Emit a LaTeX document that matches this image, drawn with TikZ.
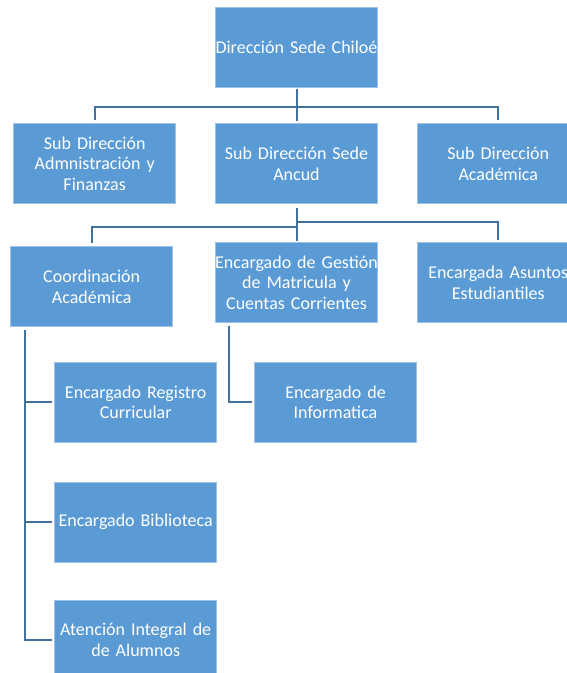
\documentclass[tikz,border=0pt]{standalone}
\usepackage{fontspec}
\setmainfont{Carlito}
\usetikzlibrary{positioning}
\definecolor{CargoBlue}{HTML}{5B9BD5}
\definecolor{CargoEdge}{HTML}{9DC3E6}
\definecolor{LinkBlue}{HTML}{41719C}

\begin{document}
\begin{tikzpicture}[x=1pt,y=1pt,
  cargo/.style={draw=CargoEdge,line width=.8pt,fill=CargoBlue,text=white,align=center,
    text width=168pt,inner xsep=-3pt,inner ysep=0pt,minimum height=80pt,font=\fontsize{18}{20.7}\selectfont},
  link/.style={draw=LinkBlue,line width=2pt}]
  \clip (0,0) rectangle (567,-673);
  \node[cargo] (top) at (296.5,-47) {Dirección Sede Chiloé};
  \node[cargo,below=36pt of top] (sdsede) {Sub Dirección Sede\\Ancud};
  \node[cargo,left=39pt of sdsede] (sdadmin) {Sub Dirección\\Admnistración y\\Finanzas};
  \node[cargo,right=39pt of sdsede] (sdacad) {Sub Dirección\\Académica};
  \node[cargo,below=38pt of sdsede] (gestion) {Encargado de Gestión\\de Matricula y\\Cuentas Corrientes};
  \node[cargo,below=42pt of sdadmin,xshift=-3pt] (coord) {Coordinación\\Académica};
  \node[cargo,below=38pt of sdacad] (asuntos) {Encargada Asuntos\\Estudiantiles};
  \node[cargo,below=35pt of coord,xshift=44pt] (registro) {Encargado Registro\\Curricular};
  \node[cargo,right=37pt of registro] (informatica) {Encargado de\\Informatica};
  \node[cargo,below=39pt of registro] (biblioteca) {Encargado Biblioteca};
  \node[cargo,below=37pt of biblioteca] (atencion) {Atención Integral de\\de Alumnos};
  % first level
  \draw[link] ([yshift=-2pt]top.south) -- ([yshift=2pt]sdsede.north);
  \draw[link] ([yshift=3pt]sdadmin.north) |- ++(0,13pt) -| ([yshift=3pt]sdacad.north);
  % second level
  \draw[link] ([yshift=-4pt]sdsede.south) -- ([yshift=1pt]gestion.north);
  \draw[link] (sdsede.south) ++(0,-23pt) -| ([yshift=3pt]coord.north);
  \draw[link] (sdsede.south) ++(0,-18pt) -| ([yshift=2pt]asuntos.north);
  % branches
  \coordinate (spine) at ([xshift=15pt,yshift=-3pt]coord.south west);
  \draw[link] (spine) |- ([xshift=-2pt]atencion.west);
  \draw[link] (spine |- registro.west) -- ([xshift=-2pt]registro.west);
  \draw[link] (spine |- biblioteca.west) -- ([xshift=-2pt]biblioteca.west);
  \draw[link] ([xshift=14pt,yshift=-3pt]gestion.south west) |- ([xshift=-2pt]informatica.west);
\end{tikzpicture}
\end{document}
